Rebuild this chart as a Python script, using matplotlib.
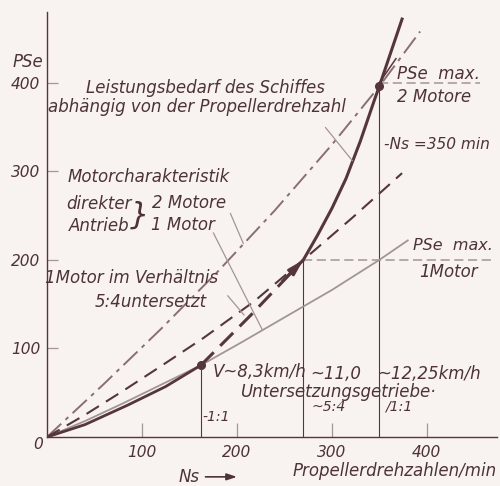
import matplotlib

matplotlib.use("Agg")

import matplotlib.pyplot as plt  # noqa: E402
import numpy as np  # noqa: E402

# Leistungsbedarf des Schiffes (Propellerkurve)
demand_ns = [0, 40, 85, 125, 162, 215, 270, 285, 300, 315, 330, 345, 350, 362, 374]
demand_pse = [0, 14, 36, 57, 81, 138, 200, 228, 258, 292, 334, 381, 396, 434, 472]

# Motorcharakteristik, direkter Antrieb
two_motor_ns = [0, 60, 120, 180, 240, 300, 350, 393]
two_motor_pse = [0, 60, 122, 187, 256, 330, 396, 458]
one_motor_ns = [0, 40, 80, 120, 162, 205, 250, 300, 350, 380]
one_motor_pse = [0, 18, 38, 59, 81, 107, 135, 166, 200, 222]

# 1 Motor im Verhaeltnis 5:4 untersetzt
geared_ns = [0, 40, 80, 120, 165, 218, 270, 322, 374]
geared_pse = [0, 25, 52, 80, 112, 153, 200, 248, 298]

# Betriebspunkte: 1:1 (1 Motor), ~5:4 (1 Motor), 1:1 (2 Motore)
op_ns = [162, 270, 350]
op_pse = [81, 200, 396]
pse_max = [200, 400]

x_ticks = [100, 200, 300, 400]
y_ticks = [100, 200, 300, 400]

BG = "#f8f3f0"
DARK = "#55363b"
GRAY = "#a39595"
TEXT = "#4d3338"
FONT = ["DejaVu Sans"]
SCALE = 0.92


def label(ax, x, y, s, size=13, ha="left", va="center", **kw):
    ax.text(x, y, s, fontsize=size * SCALE, ha=ha, va=va, color=TEXT, family=FONT,
            style="italic", clip_on=False, **kw)


def leader(ax, x0, y0, x1, y1, color=GRAY, lw=0.9):
    ax.plot([x0, x1], [y0, y1], color=color, lw=lw, solid_capstyle="butt")


def main() -> None:
    fig = plt.figure(figsize=(5.0, 4.86), dpi=100, facecolor=BG)
    ax = fig.add_axes([0.094, 0.1008, 0.9, 0.8745])
    ax.set_facecolor(BG)
    ax.set_xlim(0, 474)
    ax.set_ylim(0, 480)

    for side in ("top", "right"):
        ax.spines[side].set_visible(False)
    for side in ("left", "bottom"):
        ax.spines[side].set_color(DARK)
        ax.spines[side].set_linewidth(1.0)

    ax.set_xticks(x_ticks)
    ax.set_yticks(y_ticks)
    ax.tick_params(axis="x", direction="in", length=10, width=0.9, color=GRAY, pad=6)
    ax.tick_params(axis="y", direction="in", length=8, width=0.9, color=GRAY, pad=5)
    ax.set_xticklabels([str(v) for v in x_ticks])
    ax.set_yticklabels([str(v) for v in y_ticks])
    for t in ax.get_xticklabels() + ax.get_yticklabels():
        t.set_family(FONT)
        t.set_style("italic")
        t.set_fontsize(12 * SCALE)
        t.set_color(TEXT)

    # Hilfslinien: PSe max. und Drehzahlen der Betriebspunkte
    ax.plot([op_ns[1], 468], [pse_max[0], pse_max[0]], color=GRAY, lw=1.1, ls=(0, (6, 3)))
    ax.plot([op_ns[2], 456], [pse_max[1], pse_max[1]], color=GRAY, lw=1.1, ls=(0, (6, 3)))
    ax.plot([op_ns[0], op_ns[0]], [0, op_pse[0]], color=DARK, lw=0.8)
    ax.plot([op_ns[1], op_ns[1]], [0, pse_max[0]], color=DARK, lw=0.8)
    ax.plot([op_ns[2], op_ns[2]], [0, pse_max[1]], color=DARK, lw=0.8)

    # Motorcharakteristiken
    ax.plot(two_motor_ns, two_motor_pse, color="#8a6e72", lw=1.4, ls=(0, (10, 3, 2, 3)))
    ax.plot(one_motor_ns, one_motor_pse, color=GRAY, lw=1.3)
    ax.plot(geared_ns, geared_pse, color=DARK, lw=1.5, ls=(0, (7, 4)))

    # Leistungsbedarf: solid bis 1:1, Pfeil bis 5:4, dann wieder solid
    i0 = demand_ns.index(op_ns[0])
    i1 = demand_ns.index(op_ns[1])
    ax.plot(demand_ns[: i0 + 1], demand_pse[: i0 + 1], color=DARK, lw=2.0)
    ax.plot(demand_ns[i0 : i1 + 1], demand_pse[i0 : i1 + 1], color=DARK, lw=2.2, ls=(0, (6, 3)))
    ax.plot(demand_ns[i1:], demand_pse[i1:], color=DARK, lw=2.2)
    ax.annotate("", xy=(op_ns[1], op_pse[1]),
                xytext=(op_ns[1] - 22, op_pse[1] - 24),
                arrowprops=dict(arrowstyle="-|>,head_length=0.9,head_width=0.25",
                                color=DARK, lw=2.0, shrinkA=0, shrinkB=0))

    ax.plot([op_ns[0], op_ns[2]], [op_pse[0], op_pse[2]], "o", color=DARK, ms=5.5, zorder=5)

    # Beschriftungen
    label(ax, 167, 394, "Leistungsbedarf des Schiffes", ha="center")
    label(ax, 158, 373, "abhängig von der Propellerdrehzahl", ha="center")
    leader(ax, 293, 350, 322, np.interp(322, demand_ns, demand_pse))

    label(ax, 107, 294, "Motorcharakteristik", ha="center")
    label(ax, 55, 263, "direkter", ha="center")
    label(ax, 55, 238, "Antrieb", ha="center")
    label(ax, 98, 250, "}", size=24, ha="center")
    label(ax, 150, 264, "2 Motore", ha="center")
    label(ax, 143, 239, "1 Motor", ha="center")
    leader(ax, 193, 253, 207, np.interp(207, two_motor_ns, two_motor_pse))
    leader(ax, 175, 231, 227, np.interp(227, one_motor_ns, one_motor_pse))

    label(ax, 89, 180, "1Motor im Verhältnis", ha="center")
    label(ax, 109, 152, "5:4untersetzt", ha="center")
    leader(ax, 190, 160, 208, np.interp(208, geared_ns, geared_pse) - 8)

    label(ax, 369, 410, "PSe  max.")
    label(ax, 369, 384, "2 Motore")
    leader(ax, op_ns[2], pse_max[1], 368, 428, color=DARK, lw=1.1)
    label(ax, 355, 330, "-Ns =350 min", size=12)
    label(ax, 385, 216, "PSe  max.", size=12.5)
    label(ax, 392, 186, "1Motor")

    label(ax, 175, 73, "V~8,3km/h")
    label(ax, 277, 71, "~11,0")
    label(ax, 348, 71, "~12,25km/h")
    label(ax, 203, 51, "Untersetzungsgetriebe·")
    label(ax, 279, 34, "~5:4", size=11)
    label(ax, 356, 34, "/1:1", size=11)
    label(ax, 164, 23, "-1:1", size=11)

    label(ax, -4, 423, "PSe", size=13, ha="right")
    label(ax, -4, -8, "0", size=12, ha="right")
    label(ax, 150, -45, "Ns", size=13, ha="center")
    ax.annotate("", xy=(203, -45), xytext=(164, -45),
                arrowprops=dict(arrowstyle="-|>,head_length=0.6,head_width=0.2",
                                color=TEXT, lw=1.2), annotation_clip=False)
    label(ax, 474, -38.5, "Propellerdrehzahlen/min", ha="right")

    fig.savefig("out.png", dpi=100, facecolor=BG)
    plt.close(fig)


if __name__ == "__main__":
    main()
